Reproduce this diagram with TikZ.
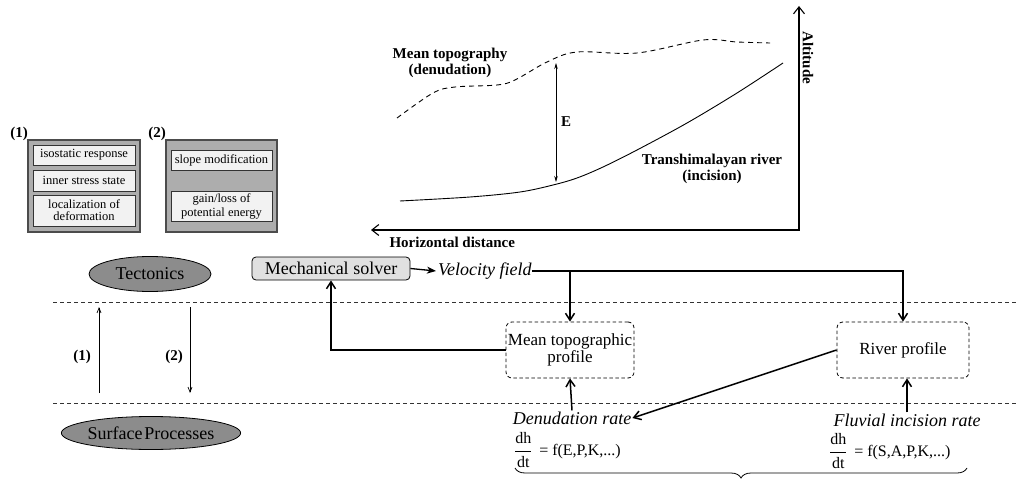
\documentclass[tikz,border=0pt]{standalone}
\usepackage{fontspec}
\usepackage{amsmath}
\setmainfont{Liberation Serif}
\usetikzlibrary{arrows.meta,shapes.geometric,decorations.pathreplacing}
\begin{document}
\begin{tikzpicture}[x=1pt,y=-1pt,
  txtL/.style={font=\fontsize{18}{20}\selectfont},
  txtM/.style={font=\fontsize{17}{17}\selectfont},
  txtB/.style={font=\fontsize{15}{16}\selectfont\bfseries},
  txtS/.style={font=\fontsize{12.5}{12}\selectfont},
  txtF/.style={font=\fontsize{16}{17}\selectfont},
  graybox/.style={draw=black!70,line width=1.2pt,fill=black!32,inner sep=0pt},
  litebox/.style={draw=black!80,line width=0.9pt,fill=black!5,inner sep=0pt,align=center,txtS},
  ell/.style={ellipse,draw=black,line width=0.8pt,fill=black!45,inner sep=0pt,txtL},
  flow/.style={line width=1.5pt,-{Straight Barb[length=7pt,width=9pt]}},
  thinarrow/.style={line width=0.7pt,-{Straight Barb[length=5pt,width=4pt]}},
  sepline/.style={dash pattern=on 4pt off 3pt,line width=0.7pt,black!80},
  dbox/.style={draw,dash pattern=on 3.5pt off 2.5pt,rounded corners=6pt,line width=0.8pt,align=center,txtM,minimum height=56pt,inner sep=0pt},
  axisline/.style={line width=1.1pt},
  axtip/.tip={Straight Barb[length=7pt,width=11pt]}
]
\useasboundingbox (0,0) rectangle (1016,481);

% ---------- legend boxes ----------
\node[txtB] (l1) at (19,134) {(1)};
\node[graybox,minimum width=112pt,minimum height=92pt] (b1) at (84,186) {};
\node[litebox,minimum width=102pt,minimum height=20pt] (b1a) at (84,155) {isostatic response};
\node[litebox,minimum width=102pt,minimum height=21pt] (b1b) at (84,180.5) {inner stress state};
\node[litebox,minimum width=102pt,minimum height=31pt] (b1c) at (84,210.5) {localization of\\deformation};

\node[txtB] (l2) at (157,134) {(2)};
\node[graybox,minimum width=111pt,minimum height=92pt] (b2) at (221.5,186) {};
\node[litebox,minimum width=101pt,minimum height=20pt] (b2a) at (221.5,160) {slope modification};
\node[litebox,minimum width=101pt,minimum height=30pt,font=\fontsize{12.5}{14}\selectfont] (b2b) at (221.5,206) {gain/loss of\\potential energy};

% ---------- graph ----------
\draw[axtip-axtip,axisline] (371,230) -- (799,230) -- (799,6);
\node[txtB,rotate=-90] (alt) at (808,58) {Altitude};
\node[txtB,anchor=west] (hd) at (386,242) {Horizontal distance};
\draw[dash pattern=on 5pt off 4pt,line width=0.9pt] plot[smooth,tension=0.55] coordinates
  {(397,118) (433,93) (455,87) (497,85) (515,80) (547,62) (577,52) (637,53) (703,40) (737,42) (770,43)};
\draw[line width=0.9pt] plot[smooth,tension=0.55] coordinates
  {(400,201) (470,197) (520,192) (553,185) (577,178) (603,167) (637,150) (687,123) (737,93) (783,63)};
\coordinate (etop) at (556,63);
\coordinate (ebot) at (556,182);
\draw[line width=0.7pt,{Stealth[length=6pt,width=3.5pt]}-{Stealth[length=6pt,width=3.5pt]}] (etop) -- (ebot);
\node[txtB] (E) at (566,122) {E};
\node[txtB,align=center] (mt) at (450,63) {Mean topography\\(denudation)};
\node[txtB,align=center] (tr) at (712,169) {Transhimalayan river\\(incision)};

% ---------- flow chart ----------
\node[ell,minimum width=122pt,minimum height=35pt] (tec) at (150,274) {Tectonics};
\node[ell,minimum width=162pt,minimum height=33pt] (sp) at (151,433) {Surface\hspace{0.1em}Processes};

\draw[sepline] (53,302) -- (1016,302);
\draw[sepline] (53,403) -- (1016,403);

\coordinate (a1s) at (99,393);
\coordinate (a1e) at (99,307);
\coordinate (a2s) at (190,307);
\coordinate (a2e) at (190,393);
\draw[thinarrow] (a1s) -- (a1e);
\draw[thinarrow] (a2s) -- (a2e);
\node[txtB] (n1) at (82,357) {(1)};
\node[txtB] (n2) at (174,357) {(2)};

\node[draw,line width=0.8pt,fill=black!12,rounded corners=4pt,minimum width=158pt,minimum height=23pt,inner sep=0pt,txtL] (mech) at (331,268.5) {Mechanical solver};
\node[txtL,anchor=west,inner sep=0pt] (vel) at (438,271) {\itshape Velocity field};
\draw[line width=1.3pt,-{Stealth[length=9pt,width=7pt,inset=2.5pt]}] (mech.east) -- ([xshift=-2pt]vel.west);

\node[dbox,minimum width=128pt] (mtp) at (570,350) {Mean topographic\\profile};
\node[dbox,minimum width=132pt] (rp) at (903,350) {River profile};

\draw[flow] (vel.east) -| (rp.north);
\draw[flow] (vel.east -| mtp.north) -- (mtp.north);
\draw[flow] (mtp.west) -| (mech.south);

\node[txtL,inner sep=1pt] (den) at (572,418) {\itshape Denudation rate};
\node[txtL,inner sep=1pt] (flu) at (907,420) {\itshape Fluvial incision rate};
\draw[flow] (den.north) -- (mtp.south);
\draw[flow] (flu.north) -- (flu.north |- rp.south);
\draw[flow] (rp.west) -- (den.east);

\node[txtF,anchor=west,inner sep=0pt] (f1) at (514,450) {$\dfrac{\text{dh}}{\text{dt}}$\, = f(E,P,K,...)};
\node[txtF,anchor=west,inner sep=0pt] (f2) at (829,451) {$\dfrac{\text{dh}}{\text{dt}}$\, = f(S,A,P,K,...)};

\coordinate (brl) at (515,468);
\coordinate (brr) at (967,468);
\draw[line width=0.8pt,decorate,decoration={brace,mirror,amplitude=10pt}] (brl) -- (brr);
\end{tikzpicture}
\end{document}
